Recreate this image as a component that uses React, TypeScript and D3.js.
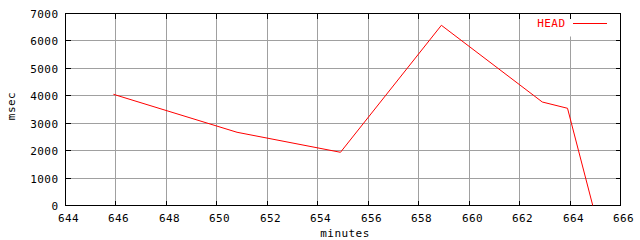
import React from "react";
import * as d3 from "d3";

const minutes = [645.9, 650.8, 654.9, 658.9, 662.9, 663.9, 664.9];
const msec = [4054, 2670, 1940, 6570, 3773, 3544, 0];
const xTicks = [644, 646, 648, 650, 652, 654, 656, 658, 660, 662, 664, 666];
const yTicks = [0, 1000, 2000, 3000, 4000, 5000, 6000, 7000];
const seriesName = "HEAD";

export default function App() {
  const W = 640, H = 240;
  const L = 65.5, R = 620.5, T = 13.5, B = 205.5;
  const x = d3.scaleLinear().domain([644, 666]).range([L, R]);
  const y = d3.scaleLinear().domain([0, 7000]).range([B, T]);
  const px = (v: number) => Math.round(x(v) - 0.5) + 0.5;
  const py = (v: number) => Math.round(y(v) - 0.5) + 0.5;
  const line = d3.line<number>().x((_, i) => x(minutes[i])).y((d) => y(d));
  const font = "'DejaVu Sans Mono', monospace";
  const fs = 11;
  const ls = 0.45;
  return (
    <svg width={W} height={H} style={{ position: "absolute", left: 0, top: 0, background: "#fff" }}>
      <rect x={0} y={0} width={W} height={H} fill="#fff" />
      <g shapeRendering="crispEdges" stroke="#a0a0a0" strokeWidth={1}>
        {xTicks.slice(1, -1).map((t) => (
          <line key={"gx" + t} x1={px(t)} x2={px(t)} y1={T} y2={B} />
        ))}
        {yTicks.slice(1, -1).map((t) => (
          <line key={"gy" + t} x1={L} x2={R} y1={py(t)} y2={py(t)} />
        ))}
      </g>
      {/* legend background clears grid */}
      <rect x={533} y={T + 5} width={80} height={18} fill="#fff" />
      <g shapeRendering="crispEdges" stroke="#000" strokeWidth={1}>
        {xTicks.slice(1, -1).map((t) => (
          <g key={"tx" + t}>
            <line x1={px(t)} x2={px(t)} y1={B} y2={B - 5} />
            <line x1={px(t)} x2={px(t)} y1={T} y2={T + 5} />
          </g>
        ))}
        {yTicks.slice(1, -1).map((t) => (
          <g key={"ty" + t}>
            <line x1={L} x2={L + 5} y1={py(t)} y2={py(t)} />
            <line x1={R} x2={R - 5} y1={py(t)} y2={py(t)} />
          </g>
        ))}
        <rect x={L} y={T} width={R - L} height={B - T} fill="none" />
      </g>
      <g fontFamily={font} fontSize={fs} fill="#000" letterSpacing={ls}>
        {yTicks.map((t) => (
          <text key={"ly" + t} x={58.5} y={py(t) + 4.5} textAnchor="end">{t}</text>
        ))}
        {xTicks.map((t) => (
          <text key={"lx" + t} x={px(t) + 3} y={221.5} textAnchor="middle">{t}</text>
        ))}
        <text x={(L + R) / 2 + 2} y={237} textAnchor="middle">minutes</text>
        <text transform={`translate(15,106) rotate(-90)`} textAnchor="middle">msec</text>
        <text x={565.5} y={27} textAnchor="end" fill="#ff0000">{seriesName}</text>
      </g>
      <line x1={573} x2={607} y1={23.5} y2={23.5} stroke="#ff0000" strokeWidth={1} shapeRendering="crispEdges" />
      <path d={line(msec) || ""} fill="none" stroke="#ff0000" strokeWidth={1} />
    </svg>
  );
}
